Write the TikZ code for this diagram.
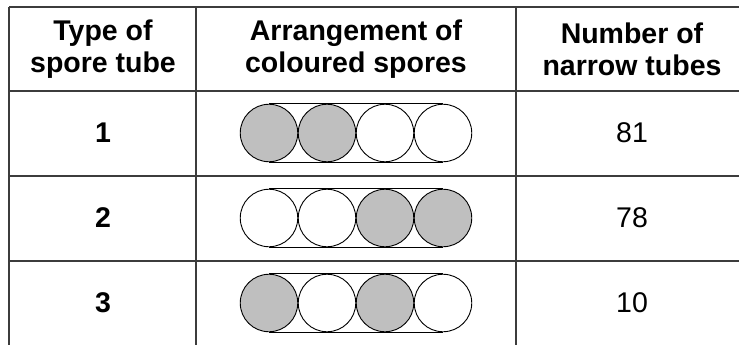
\documentclass[tikz,border=0pt]{standalone}
\usepackage{fontspec}
\setmainfont{Liberation Sans}
\usepackage{tikz}

\definecolor{sporegrey}{RGB}{191,191,191}
\definecolor{rulegrey}{RGB}{60,60,60}

\tikzset{
    head/.style={align=center, font=\fontsize{28.5}{31.7}\selectfont\bfseries},
    cell/.style={font=\fontsize{28.5}{31.7}\selectfont},
    boldcell/.style={font=\fontsize{28.5}{31.7}\selectfont\bfseries},
    spore/.style={draw, circle, line width=0.9pt, minimum size=57.5pt, inner sep=0pt},
    coloured/.style={spore, fill=sporegrey},
    plain/.style={spore, fill=white},
    tube/.style={draw, line width=0.9pt},
    rule/.style={draw=rulegrey, line width=1.6pt}
}

\begin{document}
\begin{tikzpicture}[x=1pt, y=-1pt, node distance=58pt]
    \useasboundingbox (0,0) rectangle (739,345);

    % Table Rules
    \draw[rule] (9,7) -- (745,7);
    \draw[rule] (9,91) -- (745,91);
    \draw[rule] (9,176) -- (745,176);
    \draw[rule] (9,261) -- (745,261);
    \draw[rule] (9,7) -- (9,350);
    \draw[rule] (196,7) -- (196,350);
    \draw[rule] (516,7) -- (516,350);

    % Header Nodes
    \node (typehead) [head] at (103,49) {Type of\\spore tube};
    \node (arrhead) [head] at (356,49) {Arrangement of\\coloured spores};
    \node (numhead) [head] at (632,49) {Number of\\narrow tubes};

    % Type Nodes
    \node (typeone) [boldcell] at (103,133) {1};
    \node (typetwo) [boldcell] at (103,218) {2};
    \node (typethree) [boldcell] at (103,303) {3};

    % Count Nodes
    \node (numone) [cell] at (632,133) {81};
    \node (numtwo) [cell] at (632,218) {78};
    \node (numthree) [cell] at (632,303) {10};

    % Spore Tube 1
    \coordinate (tubeone) at (269,133);
    \node (sa) [coloured] at (tubeone) {};
    \node (sb) [coloured, right of=sa] {};
    \node (sc) [plain, right of=sb] {};
    \node (sd) [plain, right of=sc] {};

    % Spore Tube 2
    \coordinate (tubetwo) at (269,218);
    \node (ta) [plain] at (tubetwo) {};
    \node (tb) [plain, right of=ta] {};
    \node (tc) [coloured, right of=tb] {};
    \node (td) [coloured, right of=tc] {};

    % Spore Tube 3
    \coordinate (tubethree) at (269,303);
    \node (ua) [coloured] at (tubethree) {};
    \node (ub) [plain, right of=ua] {};
    \node (uc) [coloured, right of=ub] {};
    \node (ud) [plain, right of=uc] {};

    % Tube Outlines
    \draw[tube] (sa.north) -- (sd.north);
    \draw[tube] (sa.south) -- (sd.south);
    \draw[tube] (ta.north) -- (td.north);
    \draw[tube] (ta.south) -- (td.south);
    \draw[tube] (ua.north) -- (ud.north);
    \draw[tube] (ua.south) -- (ud.south);
\end{tikzpicture}
\end{document}
